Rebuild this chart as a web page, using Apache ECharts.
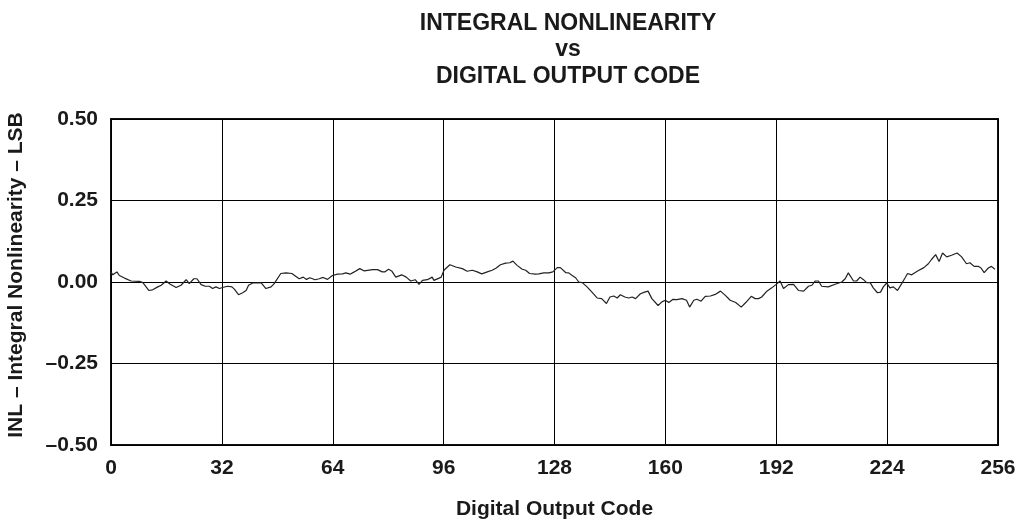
<!DOCTYPE html>
<html>
<head>
<meta charset="utf-8">
<script src="https://cdn.jsdelivr.net/npm/echarts@6/dist/echarts.min.js"></script>
<style>
  html, body { margin: 0; padding: 0; background: #fff; }
  #chart { width: 1019px; height: 519px; }
</style>
</head>
<body>
<div id="chart"></div>
<script>
// INL curve, [code, LSB]
const codes = [
  0, 0.5, 1.7, 2.4, 3.9, 5.8, 8.2, 9.2, 10.9, 12.0, 13.5, 14.5, 15.9, 17.1, 18.8, 20.2,
  21.7, 22.6, 23.9, 24.8, 26.0, 27.2, 28.4, 29.3, 30.3, 31.3, 32.2, 33.7, 34.9, 35.6,
  36.8, 38.0, 39.0, 39.7, 40.9, 42.3, 43.3, 44.7, 46.2, 47.1, 49.0, 50.5, 52.2, 54.3,
  55.5, 56.4, 57.4, 58.9, 60.1, 61.2, 62.5, 63.0, 63.9, 65.4, 66.8, 67.8, 69.0, 70.2,
  71.8, 73.1, 75.5, 76.9, 78.3, 79.0, 80.1, 81.0, 82.2, 83.9, 85.2, 86.5, 87.8, 88.9,
  89.9, 91.3, 92.7, 93.2, 94.7, 95.3, 96.1, 97.8, 99.5, 101.4, 102.8, 104.3, 105.7,
  107.0, 108.6, 110.0, 111.2, 112.4, 113.9, 115.1, 116.0, 117.2, 118.7, 119.7, 120.8,
  122.5, 123.5, 124.9, 126.4, 127.5, 128.8, 129.7, 131.2, 132.1, 133.1, 134.1, 135.0,
  136.0, 137.4, 138.8, 140.3, 141.6, 143.0, 144.0, 145.1, 146.1, 147.0, 148.3, 149.4,
  150.4, 151.4, 152.8, 154.0, 155.0, 156.1, 157.9, 159.0, 160.0, 161.0, 162.2, 163.3,
  164.8, 166.1, 167.0, 168.2, 169.1, 170.3, 171.5, 173.0, 174.4, 175.9, 177.3, 178.7,
  180.3, 181.9, 183.2, 184.8, 185.9, 186.9, 187.8, 189.3, 190.7, 191.9, 193.1, 194.1,
  195.5, 197.0, 198.4, 199.9, 201.3, 202.3, 203.2, 204.2, 205.1, 207.0, 209.0, 210.9,
  211.9, 212.8, 214.3, 215.2, 216.2, 217.1, 218.1, 219.1, 220.0, 221.2, 222.1, 222.9,
  223.9, 224.8, 225.8, 227.0, 228.2, 229.2, 229.9, 231.1, 232.8, 234.6, 235.9, 236.8,
  238.0, 239.0, 240.0, 241.2, 242.6, 244.2, 245.5, 246.9, 247.9, 249.1, 250.3, 251.1,
  252.0, 253.2, 254.1, 255.1
]
const inl = [
  0.031, 0.022, 0.031, 0.020, 0.012, 0.003, 0.002, -0.002, -0.026, -0.024, -0.015, -0.010,
  0.003, -0.007, -0.017, -0.010, 0.007, -0.005, 0.010, 0.010, -0.008, -0.013, -0.013,
  -0.020, -0.015, -0.020, -0.017, -0.013, -0.015, -0.022, -0.039, -0.033, -0.026, -0.010,
  -0.003, -0.003, -0.002, -0.020, -0.015, -0.005, 0.026, 0.028, 0.026, 0.010, 0.015,
  0.008, 0.013, 0.007, 0.010, 0.014, 0.008, 0.005, 0.020, 0.024, 0.025, 0.028, 0.024,
  0.031, 0.041, 0.034, 0.038, 0.038, 0.031, 0.031, 0.039, 0.034, 0.015, 0.022, 0.015,
  0.003, 0.007, -0.007, 0.005, 0.007, 0.015, 0.005, 0.012, 0.015, 0.036, 0.053, 0.046,
  0.041, 0.033, 0.036, 0.031, 0.025, 0.031, 0.036, 0.043, 0.053, 0.058, 0.059, 0.064,
  0.051, 0.039, 0.036, 0.026, 0.024, 0.025, 0.028, 0.028, 0.031, 0.044, 0.044, 0.029,
  0.028, 0.020, 0.013, 0.000, -0.002, -0.015, -0.031, -0.049, -0.051, -0.066, -0.046,
  -0.043, -0.049, -0.039, -0.046, -0.049, -0.046, -0.051, -0.036, -0.031, -0.028, -0.051,
  -0.072, -0.061, -0.056, -0.063, -0.053, -0.054, -0.051, -0.056, -0.077, -0.056, -0.053,
  -0.059, -0.044, -0.043, -0.038, -0.028, -0.041, -0.056, -0.063, -0.077, -0.063, -0.044,
  -0.051, -0.051, -0.046, -0.028, -0.018, -0.008, 0.003, -0.020, -0.008, -0.007, -0.026,
  -0.028, -0.013, -0.010, 0.003, 0.003, -0.013, -0.015, -0.007, 0.000, 0.010, 0.028,
  0.003, 0.003, 0.015, 0.008, -0.002, -0.002, -0.018, -0.033, -0.031, -0.015, -0.003,
  -0.018, -0.015, -0.026, -0.005, 0.013, 0.026, 0.022, 0.034, 0.044, 0.056, 0.069, 0.084,
  0.063, 0.089, 0.077, 0.082, 0.089, 0.077, 0.056, 0.059, 0.048, 0.048, 0.043, 0.029,
  0.043, 0.048, 0.039
]

const font = 'Liberation Sans, Arial, Helvetica, sans-serif'
const chart = echarts.init(document.getElementById('chart'))

chart.setOption({
  backgroundColor: '#fff',
  animation: false,
  title: {
    text: 'INTEGRAL NONLINEARITY\nvs\nDIGITAL OUTPUT CODE',
    left: 563,
    top: 5,
    textAlign: 'center',
    textStyle: {
      fontFamily: font,
      fontWeight: 'bold',
      fontSize: 23,
      lineHeight: 26.5,
      color: '#1a1a1a'
    }
  },
  grid: {
    left: 111,
    right: 21,
    top: 119,
    bottom: 74,
    outerBoundsMode: 'none',
    containLabel: false,
    show: true,
    borderColor: '#111',
    borderWidth: 2,
    backgroundColor: 'transparent'
  },
  xAxis: {
    type: 'value',
    min: 0,
    max: 256,
    interval: 32,
    name: 'Digital Output Code',
    nameLocation: 'middle',
    nameGap: 54,
    nameTextStyle: { fontFamily: font, fontWeight: 'bold', fontSize: 21, color: '#1a1a1a' },
    axisLine: { show: false },
    axisTick: { show: false },
    axisLabel: { fontFamily: font, fontWeight: 'bold', fontSize: 21, color: '#1a1a1a', margin: 13 },
    splitLine: { show: true, lineStyle: { color: '#000', width: 1 } }
  },
  yAxis: {
    type: 'value',
    min: -0.5,
    max: 0.5,
    interval: 0.25,
    name: 'INL – Integral Nonlinearity – LSB',
    nameLocation: 'middle',
    nameGap: 84,
    nameTextStyle: {
      fontFamily: font,
      fontWeight: 'bold',
      fontSize: 21,
      color: '#1a1a1a',
      padding: [0, 0, 0, 14]
    },
    axisLine: { show: false },
    axisTick: { show: false },
    axisLabel: {
      fontFamily: font,
      fontWeight: 'bold',
      fontSize: 21,
      color: '#1a1a1a',
      margin: 13,
      formatter: v => v.toFixed(2).replace('-', '–')
    },
    splitLine: { show: true, lineStyle: { color: '#000', width: 1 } }
  },
  series: [
    {
      type: 'line',
      data: codes.map((c, i) => [c, inl[i]]),
      showSymbol: false,
      lineStyle: { color: '#222', width: 1.2 }
    }
  ]
})
</script>
</body>
</html>
